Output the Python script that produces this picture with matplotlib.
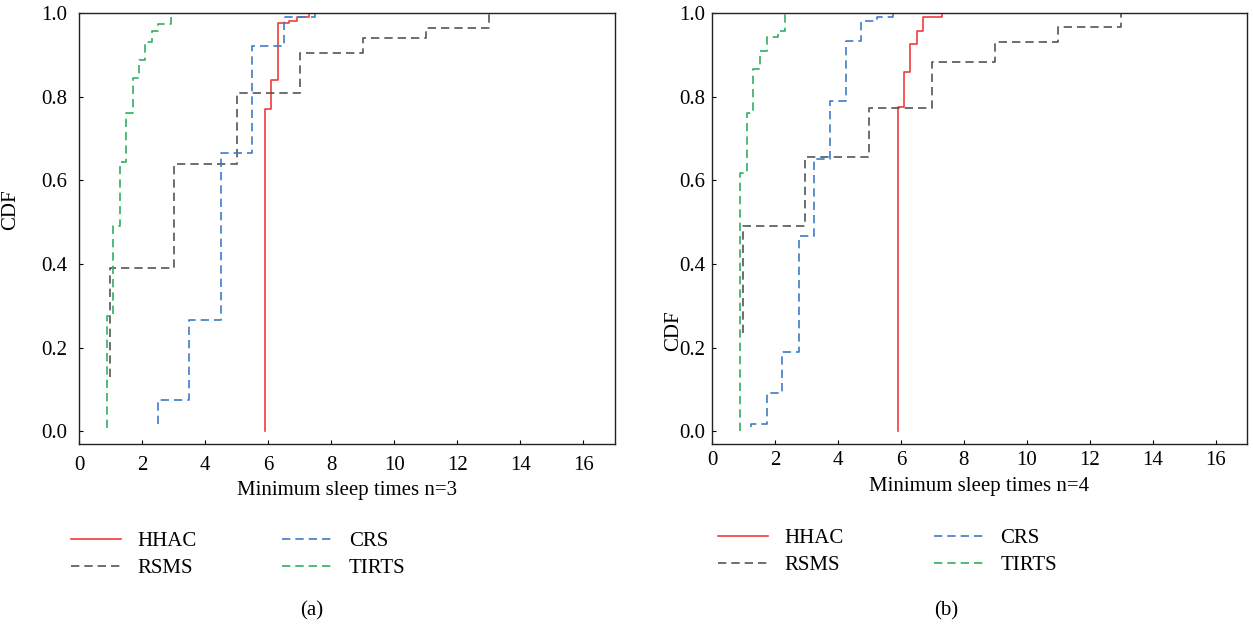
import numpy as np
import matplotlib
matplotlib.use('Agg')
import matplotlib.pyplot as plt

plt.rcParams['font.family'] = ['Liberation Serif', 'DejaVu Serif']

# step CDF data: jump positions and CDF value after each jump
# (a) n=3
hhac3_x = [5.9, 5.9, 6.1, 6.3, 6.65, 6.9, 7.3, 7.5]
hhac3_y = [0.0, 0.77, 0.84, 0.975, 0.98, 0.99, 1.0, 1.0]
rsms3_x = [0.98, 0.98, 3.0, 5.0, 7.0, 9.0, 11.0, 13.0, 14.8]
rsms3_y = [0.13, 0.39, 0.64, 0.81, 0.905, 0.94, 0.965, 1.0, 1.0]
crs3_x = [2.5, 2.5, 3.5, 4.5, 5.5, 6.5, 7.5, 8.5]
crs3_y = [0.017, 0.074, 0.266, 0.665, 0.922, 0.99, 1.0, 1.0]
tirts3_x = [0.9, 0.9, 1.08, 1.3, 1.5, 1.7, 1.9, 2.1, 2.3, 2.5, 2.93, 3.3]
tirts3_y = [0.009, 0.275, 0.49, 0.645, 0.76, 0.844, 0.888, 0.93, 0.958, 0.974, 1.0, 1.0]

# (b) n=4
hhac4_x = [5.9, 5.9, 6.1, 6.3, 6.5, 6.7, 7.3, 7.5]
hhac4_y = [0.0, 0.775, 0.858, 0.925, 0.958, 0.99, 1.0, 1.0]
rsms4_x = [0.99, 0.99, 2.95, 5.0, 7.0, 9.0, 11.0, 13.0, 15.0]
rsms4_y = [0.236, 0.49, 0.657, 0.774, 0.884, 0.93, 0.967, 1.0, 1.0]
crs4_x = [1.24, 1.24, 1.75, 2.24, 2.76, 3.24, 3.76, 4.25, 4.74, 5.25, 5.75, 6.0]
crs4_y = [0.011, 0.017, 0.092, 0.19, 0.466, 0.65, 0.79, 0.934, 0.98, 0.99, 1.0, 1.0]
tirts4_x = [0.89, 0.89, 1.12, 1.31, 1.52, 1.75, 2.1, 2.31, 2.63]
tirts4_y = [0.0, 0.617, 0.76, 0.866, 0.91, 0.942, 0.956, 1.0, 1.0]

names = ['HHAC', 'RSMS', 'CRS', 'TIRTS']
colors = ['#f03c3c', '#555555', '#3f7bc8', '#30b060']
styles = ['-', (0, (5, 3)), (0, (5, 3)), (0, (5, 3))]

panels = [
    dict(data=[(hhac3_x, hhac3_y), (rsms3_x, rsms3_y), (crs3_x, crs3_y), (tirts3_x, tirts3_y)],
         rect=[79/1253, 1-444/627, 536/1253, 431/627], xlabel='Minimum sleep times n=3',
         tag='(a)', tag_x=312, xl_y=490, ylab=(-0.110, 0.543), pad=8.5,
         leg=(71, 555), colsp=4.1),
    dict(data=[(hhac4_x, hhac4_y), (rsms4_x, rsms4_y), (crs4_x, crs4_y), (tirts4_x, tirts4_y)],
         rect=[712/1253, 1-444/627, 535/1253, 431/627], xlabel='Minimum sleep times n=4',
         tag='(b)', tag_x=946, xl_y=487, ylab=(-0.054, 0.264), pad=5,
         leg=(718, 552), colsp=4.3),
]

fig = plt.figure(figsize=(12.53, 6.27), dpi=100)
for p in panels:
    ax = fig.add_axes(p['rect'])
    lines = []
    for (x, y), c, ls, n in zip(p['data'], colors, styles, names):
        ln, = ax.step(x, y, where='post', color=c, linestyle=ls, lw=1.2, label=n)
        lines.append(ln)
    ax.set_xlim(0, 17)
    ax.set_ylim(-0.03, 1.0)
    ax.set_xticks(np.arange(0, 17, 2))
    ax.set_yticks(np.arange(0, 1.01, 0.2))
    ax.yaxis.set_major_formatter(matplotlib.ticker.FormatStrFormatter('%.1f'))
    ax.tick_params(direction='in', length=3, labelsize=15, pad=p['pad'])
    for s in ax.spines.values():
        s.set_linewidth(1.0)
        s.set_color('#222222')
    ax.set_ylabel('CDF', fontsize=15)
    ax.yaxis.set_label_coords(*p['ylab'])
    cx = p['rect'][0] + p['rect'][2] / 2
    fig.text(cx, 1 - p['xl_y'] / 627, p['xlabel'], ha='center', va='center', fontsize=15)
    fig.text(p['tag_x'] / 1253, 1 - 611 / 627, p['tag'], ha='center', va='center', fontsize=15)
    order = [lines[0], lines[1], lines[2], lines[3]]
    fig.legend(order, names, ncol=2, frameon=False, fontsize=15,
               loc='center left', bbox_to_anchor=(p['leg'][0] / 1253, 1 - p['leg'][1] / 627),
               borderpad=0, borderaxespad=0, handlelength=2.4, handletextpad=0.8,
               columnspacing=p['colsp'], labelspacing=0.35)

fig.savefig('out.png', dpi=100)
